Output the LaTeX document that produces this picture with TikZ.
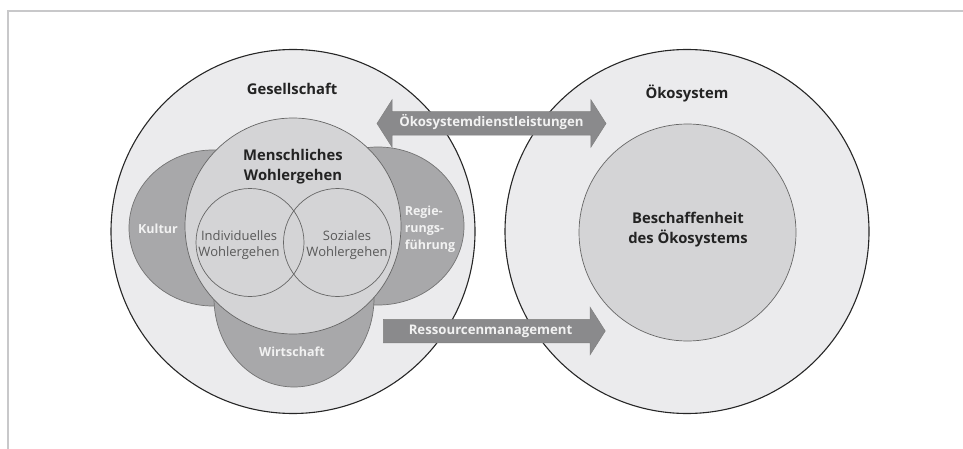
\documentclass[tikz,border=0pt]{standalone}
\usepackage{fontspec}
\setmainfont{Open Sans}
\usetikzlibrary{shapes.geometric, shapes.arrows}

\definecolor{framegray}{RGB}{200,200,202}
\definecolor{ringfill}{RGB}{235,235,237}
\definecolor{wellfill}{RGB}{212,212,214}
\definecolor{sectorfill}{RGB}{168,168,170}
\definecolor{arrowfill}{RGB}{138,138,140}
\definecolor{labeldark}{RGB}{35,35,35}

\begin{document}
\begin{tikzpicture}[x=1pt, y=-1pt, every node/.append style={text=labeldark, font=\fontsize{14.8}{20}\selectfont\bfseries, align=center},
	ring/.style={circle, draw=black!85, line width=1.1pt, fill=ringfill, minimum size=#1},
	sector/.style={ellipse, draw=black!55, line width=0.7pt, fill=sectorfill},
	well/.style={circle, draw=black!60, line width=0.7pt, minimum size=#1},
	blockarrow/.style={fill=arrowfill, draw=black!50, line width=0.5pt, text=white!95!black, font=\fontsize{13.2}{16}\selectfont\bfseries, text height=9.5pt, text depth=2.5pt, inner ysep=5.5pt, inner xsep=0pt},
	small/.style={text=white!95!black, font=\fontsize{12.5}{17}\selectfont\bfseries},
	thin/.style={text=black!65, font=\fontsize{13}{16}\selectfont}]

	\useasboundingbox (0,0) rectangle (963,449);
	\draw[framegray, line width=1.5pt] (8,449) -- (8,11) -- (963,11);

	% society and ecosystem
	\node[ring=364pt] (ges) at (293,231.5) {};
	\node[ring=364pt] (oeko) at (687,231.5) {};

	\node[sector, minimum width=168pt, minimum height=156pt] (kultur) at (213,228) {};
	\node[sector, minimum width=172pt, minimum height=158pt] (regie) at (378,226) {};
	\node[sector, minimum width=160pt, minimum height=178pt] (wirt) at (294,298) {};

	\node[well=216pt, fill=wellfill] (mensch) at (293,226) {};
	\foreach \n/\x in {indiv/250, sozial/337.5}
	{
		\node[well=108pt] (\n) at (\x,242.5) {};
	}
	\node[well=217pt, fill=wellfill] (zustand) at (687.5,232.5) {};

	% labels
	\node (gesl) at (292,89) {Gesellschaft};
	\node (oekol) at (687,93) {Ökosystem};
	\node (menschl) at (293,167) {Menschliches\\Wohlergehen};
	\node (zustandl) at (688,230) {Beschaffenheit\\des Ökosystems};
	\node[thin] (indivl) at (239,245) {Individuelles\\Wohlergehen};
	\node[thin] (soziall) at (347,245) {Soziales\\Wohlergehen};
	\node[small] (kulturl) at (158,229) {Kultur};
	\node[small, align=left] (regiel) at (430,229) {Regie-\\rungs-\\führung};
	\node[small] (wirtl) at (292,352) {Wirtschaft};

	% exchanges
	\node[blockarrow, double arrow, double arrow head extend=12pt, double arrow tip angle=115, minimum height=229pt] (dienst) at (491.5,123.5) {Ökosystemdienstleistungen};
	\node[blockarrow, single arrow, single arrow head extend=12pt, single arrow tip angle=115, minimum height=222pt, anchor=tail] (ressource) at (383,331) {Ressourcenmanagement};

\end{tikzpicture}
\end{document}
